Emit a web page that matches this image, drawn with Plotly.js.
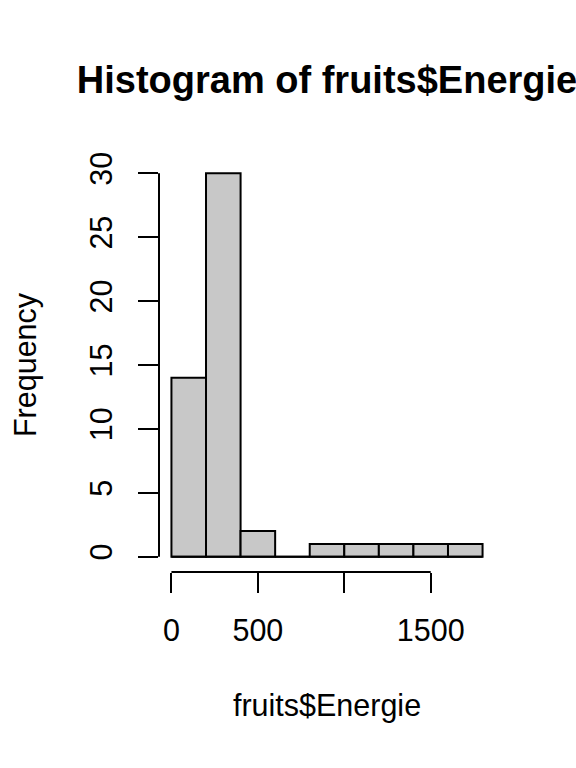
<!DOCTYPE html>
<html>
<head>
<meta charset="utf-8">
<script src="https://cdn.plot.ly/plotly-3.0.1.min.js"></script>
<style>html,body{margin:0;padding:0;background:#fff;}#chart{width:576px;height:768px;}</style>
</head>
<body>
<div id="chart"></div>
<script>
// Histogram data (bin breaks and counts)
var breaks = [0, 200, 400, 600, 800, 1000, 1200, 1400, 1600, 1800];
var counts = [14, 30, 2, 0, 1, 1, 1, 1, 1];
var xTickVals = [0, 500, 1000, 1500];
var xTickText = ['0', '500', '', '1500'];
var yTickVals = [0, 5, 10, 15, 20, 25, 30];
var yTickText = ['0', '5', '10', '15', '20', '25', '30'];
var titleText = 'Histogram of fruits$Energie';
var xTitle = 'fruits$Energie';
var yTitle = 'Frequency';

var mids = [], widths = [];
for (var i = 0; i < counts.length; i++) {
  mids.push((breaks[i] + breaks[i + 1]) / 2);
  widths.push(breaks[i + 1] - breaks[i]);
}

var xmin = breaks[0], xmax = breaks[breaks.length - 1];
var xpad = (xmax - xmin) * 0.04;
var ymax = Math.max.apply(null, counts);
var ypad = ymax * 0.04;

var font = 'Liberation Sans, Arial, Helvetica, sans-serif';
var fs = 30.5;

var traces = [
  {
    type: 'scatter', mode: 'lines',
    x: [xmin, xmax], y: [0, 0],
    line: {color: '#000', width: 2},
    hoverinfo: 'skip', showlegend: false
  },
  {
    type: 'bar',
    x: mids, y: counts, width: widths,
    marker: {color: '#c8c8c8', line: {color: '#000', width: 2}},
    showlegend: false
  }
];

var layout = {
  width: 576, height: 768,
  paper_bgcolor: '#fff', plot_bgcolor: '#fff',
  margin: {l: 158.5, r: 81, t: 157.6, b: 195.6, pad: 0},
  font: {family: font, color: '#000', size: fs},
  title: {
    text: '<b>' + titleText + '</b>',
    font: {family: font, size: 38, color: '#000'},
    xref: 'paper', x: 0.5, xanchor: 'center',
    yref: 'container', y: 1 - 80 / 768, yanchor: 'middle'
  },
  xaxis: {
    range: [xmin - xpad, xmax + xpad],
    showgrid: false, zeroline: false, showline: false,
    ticks: 'outside', ticklen: 20, tickwidth: 2, tickcolor: '#000',
    tickmode: 'array', tickvals: xTickVals, ticktext: xTickText,
    ticklabelstandoff: 11,
    tickfont: {family: font, size: fs, color: '#000'},
    title: {text: xTitle, font: {family: font, size: fs, color: '#000'}, standoff: 49},
    automargin: false, fixedrange: true
  },
  yaxis: {
    range: [-ypad, ymax + ypad],
    showgrid: false, zeroline: false, showline: false,
    ticks: 'outside', ticklen: 20, tickwidth: 2, tickcolor: '#000',
    tickmode: 'array', tickvals: yTickVals, ticktext: yTickText,
    tickangle: -90,
    ticklabelstandoff: 14,
    tickfont: {family: font, size: fs, color: '#000'},
    title: {text: yTitle, font: {family: font, size: fs, color: '#000'}, standoff: 38},
    automargin: false, fixedrange: true
  },
  shapes: [
    {type: 'line', xref: 'x', yref: 'paper', x0: xTickVals[0], x1: xTickVals[xTickVals.length - 1], y0: 0, y1: 0, line: {color: '#000', width: 2}},
    {type: 'line', xref: 'paper', yref: 'y', x0: 0, x1: 0, y0: yTickVals[0], y1: yTickVals[yTickVals.length - 1], line: {color: '#000', width: 2}}
  ]
};

Plotly.newPlot('chart', traces, layout, {staticPlot: true, displayModeBar: false});
</script>
</body>
</html>
